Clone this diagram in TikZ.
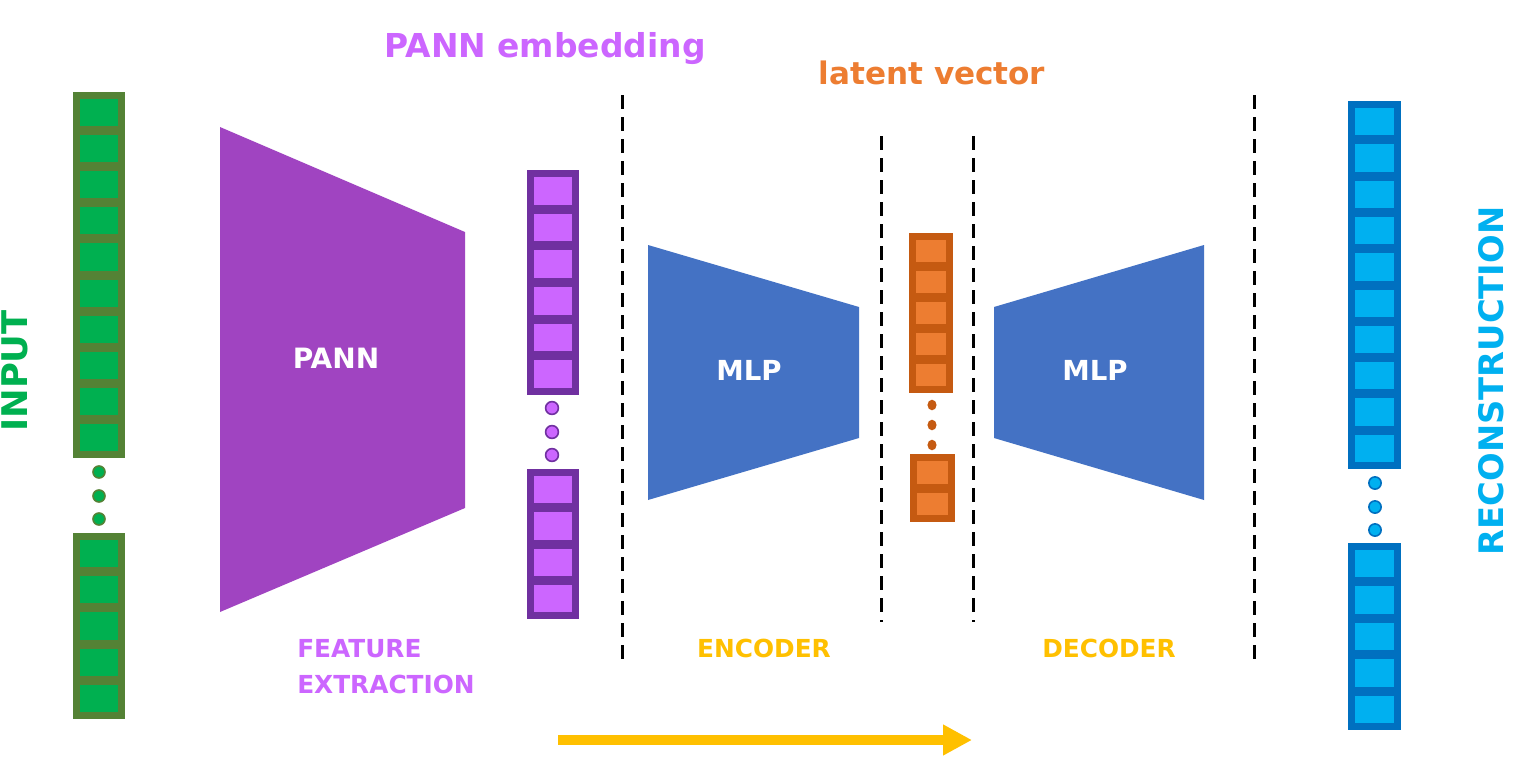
\documentclass[tikz,border=0pt]{standalone}
\usepackage{fontspec}
\setmainfont{DejaVu Sans}
\usetikzlibrary{arrows.meta}
\definecolor{gLight}{HTML}{00B050}
\definecolor{gDark}{HTML}{548235}
\definecolor{pLight}{HTML}{CC66FF}
\definecolor{pDark}{HTML}{7030A0}
\definecolor{oLight}{HTML}{ED7D31}
\definecolor{oDark}{HTML}{C55A11}
\definecolor{bLight}{HTML}{00B0F0}
\definecolor{bDark}{HTML}{0070C0}
\definecolor{pannC}{HTML}{A044C1}
\definecolor{mlpC}{HTML}{4472C4}
\definecolor{yelC}{HTML}{FFC000}
\newcommand\cellstack[7]{%
  \fill[#6] (#1,#3) rectangle (#2,#4);
  \pgfmathsetmacro\csh{(#4-#3-14-(#5-1)*9)/#5}%
  \foreach \k in {1,...,#5}{%
    \pgfmathsetmacro\yy{#3+7+(\k-1)*(\csh+9)}%
    \fill[#7] (#1+7,\yy) rectangle (#2-7,\yy+\csh);
  }%
}
\tikzset{
  dotc/.style={line width=1.2pt},
  sep/.style={draw=black, line width=2.25pt, dash pattern=on 10.5pt off 6pt},
  lbl/.style={font=\bfseries, inner sep=0pt},
}
\begin{document}
\begin{tikzpicture}[x=0.75pt,y=-0.75pt]
\useasboundingbox (0,0) rectangle (1517,764);
\fill[white] (0,0) rectangle (1517,764);
% trapezoids
\fill[pannC] (220,127) -- (465,232) -- (465,508) -- (220,612) -- cycle;
\fill[mlpC] (648,245) -- (859,307) -- (859,438) -- (648,500) -- cycle;
\fill[mlpC] (994,307) -- (1204,245) -- (1204,500) -- (994,438) -- cycle;
\node[lbl, text=white, font=\bfseries\fontsize{21}{25}\selectfont] (pann) at (336,358) {PANN};
\node[lbl, text=white, font=\bfseries\fontsize{20.7}{25}\selectfont] (mlp1) at (749,370) {MLP};
\node[lbl, text=white, font=\bfseries\fontsize{20.7}{25}\selectfont] (mlp2) at (1095,370) {MLP};
% green column
\cellstack{73}{125}{92}{458}{10}{gDark}{gLight}
\cellstack{73}{125}{533}{719}{5}{gDark}{gLight}
\foreach \yy in {472,496,519}{\filldraw[fill=gLight, draw=gDark, dotc] (99,\yy) circle[radius=4.5pt];}
% purple column
\cellstack{527}{579}{170}{395}{6}{pDark}{pLight}
\cellstack{527}{579}{469}{619}{4}{pDark}{pLight}
\foreach \yy in {408,432,455}{\filldraw[fill=pLight, draw=pDark, dotc] (552,\yy) circle[radius=4.8pt];}
% orange column
\cellstack{909}{953}{233}{393}{5}{oDark}{oLight}
\cellstack{910}{955}{454}{522}{2}{oDark}{oLight}
\foreach \yy in {405,425,445}{\fill[oDark] (932,\yy) ellipse[x radius=3.4pt, y radius=4pt];}
% blue column
\cellstack{1348}{1401}{101}{469}{10}{bDark}{bLight}
\cellstack{1348}{1401}{543}{730}{5}{bDark}{bLight}
\foreach \yy in {483,507,530}{\filldraw[fill=bLight, draw=bDark, dotc] (1375,\yy) circle[radius=4.6pt];}
% dashed separators
\draw[sep] (622,95) -- (622,662);
\draw[sep] (881,136) -- (881,622);
\draw[sep] (973,136) -- (973,622);
\draw[sep] (1254,95) -- (1254,660);
% labels
\node[lbl, text=pLight, font=\bfseries\fontsize{24.7}{30}\selectfont, anchor=base] (emb) at (545,57) {PANN embedding};
\node[lbl, text=oLight, font=\bfseries\fontsize{23.3}{28}\selectfont, anchor=base] (lat) at (932,84) {latent vector};
\node[lbl, text=pLight, font=\bfseries\fontsize{18.6}{22}\selectfont, anchor=base west] (fe1) at (297,657) {FEATURE};
\node[lbl, text=pLight, font=\bfseries\fontsize{18.6}{22}\selectfont, anchor=base west] (fe2) at (297,693) {EXTRACTION};
\node[lbl, text=yelC, font=\bfseries\fontsize{18.6}{22}\selectfont, anchor=base] (enc) at (764,657) {ENCODER};
\node[lbl, text=yelC, font=\bfseries\fontsize{18.6}{22}\selectfont, anchor=base] (dec) at (1109,657) {DECODER};
\node[lbl, text=gLight, font=\bfseries\fontsize{26.5}{30}\selectfont, rotate=90] (inp) at (15,371) {INPUT};
\node[lbl, text=bLight, font=\bfseries\fontsize{25.3}{30}\selectfont, rotate=90] (rec) at (1491,381) {RECONSTRUCTION};
% arrow
\coordinate (arrS) at (558,740);
\coordinate (arrE) at (972,740);
\draw[yelC, line width=7.5pt, -{Triangle[length=21.75pt,width=21.75pt]}] (arrS) -- (arrE);
\end{tikzpicture}
\end{document}
